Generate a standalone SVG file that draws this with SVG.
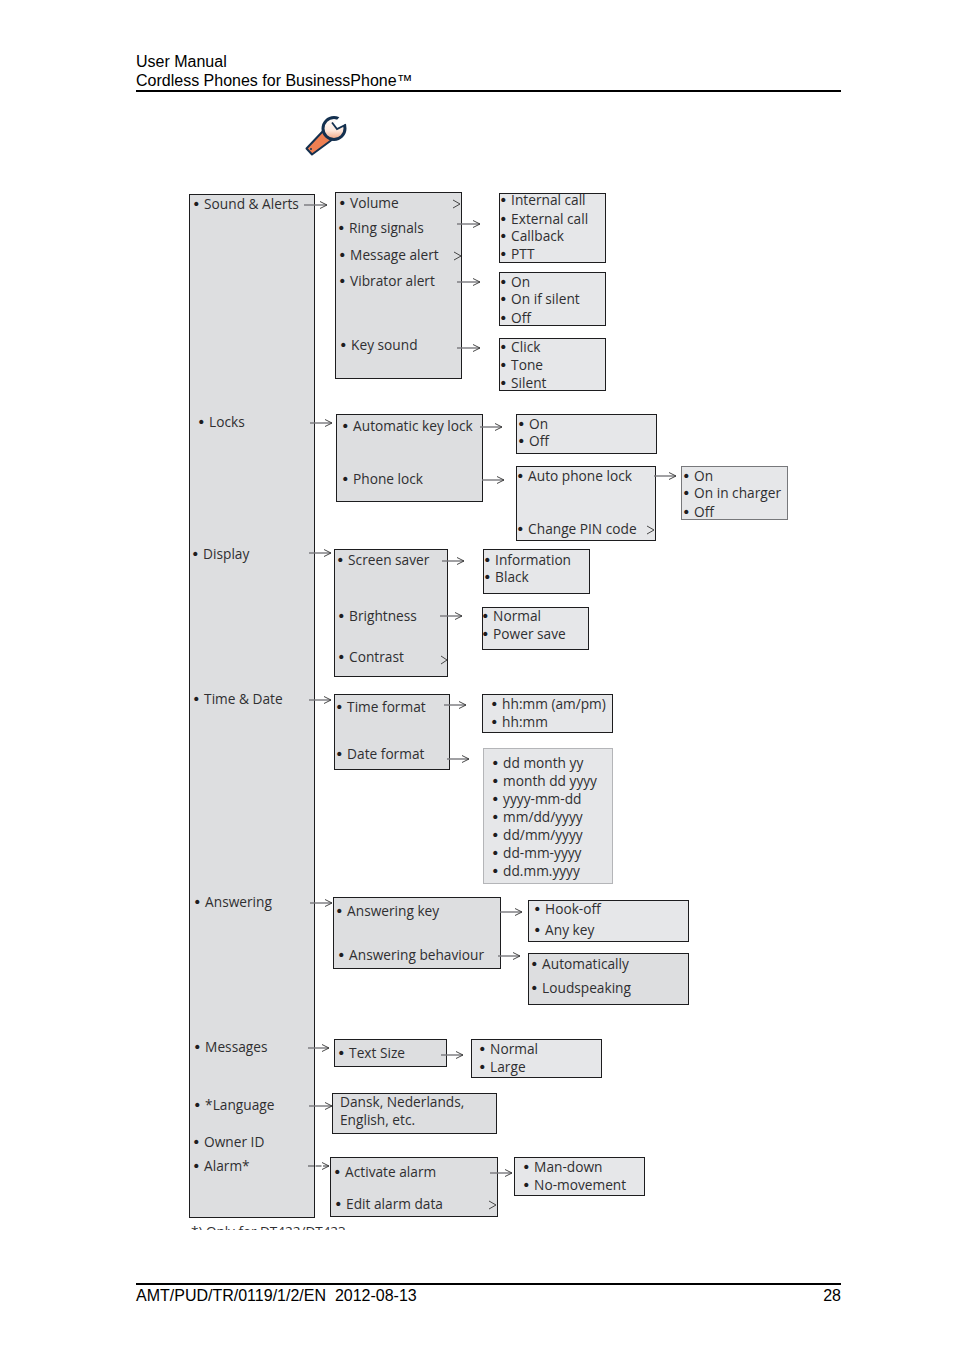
<svg xmlns="http://www.w3.org/2000/svg" width="954" height="1351" viewBox="0 0 954 1351">
<style>
text{font-family:"Open Sans","Noto Sans","Liberation Sans",sans-serif;font-size:13.700px;fill:#2f2f31}
tspan{font-family:"DejaVu Sans",sans-serif;font-size:14.500px;fill:#1d1d1f}
.h{font-family:"Liberation Sans",Arial,sans-serif;font-size:16px;fill:#000;white-space:pre}
.b{fill:#dddee0;stroke:#1d1d1f;stroke-width:1}
.l{fill:#e6e7e9;stroke:#1d1d1f;stroke-width:1}
.g{fill:#e6e7e9;stroke:#b4b5b8;stroke-width:1}
.c{fill:none;stroke:#77787b;stroke-width:1.400;marker-end:url(#a)}
.s{fill:none;stroke:#333;stroke-width:.9}
.r{fill:none;stroke:#000;stroke-width:2}
</style>
<defs>
<marker id="a" markerUnits="userSpaceOnUse" markerWidth="10" markerHeight="10" refX="8" refY="5" orient="auto"><path d="M1 1.500L8 5L1 8.500" fill="none" stroke="#333" stroke-width=".9"/></marker>
<clipPath id="fn"><rect x="185" y="1222" width="200" height="8"/></clipPath>
<linearGradient id="hd" x1="0" y1="0" x2="0" y2="1"><stop offset="0" stop-color="#fff"/><stop offset=".6" stop-color="#fde6da"/><stop offset="1" stop-color="#f0a27e"/></linearGradient>
</defs>
<g id="header"><text class="h" x="136" y="67">User Manual</text><text class="h" x="136" y="86">Cordless Phones for BusinessPhone™</text><path class="r" d="M136 91H841"/></g>
<g id="wrench">
<path d="M306.500 148.500L324 130L333 139L312 154.500Z" fill="#ee7f52" stroke="#14304f" stroke-width="2" stroke-linejoin="round"/>
<circle cx="334" cy="128.500" r="11" fill="url(#hd)" stroke="#14304f" stroke-width="3"/>
<path d="M333 124.500L337 129L349 122L343 113Z" fill="#fff"/>
<path d="M332 122.500L337 129L346 124.500" fill="none" stroke="#14304f" stroke-width="1.800"/>
<circle cx="311" cy="149" r="1" fill="#14304f"/>
</g>
<g id="n-main"><rect class="b" x="189.500" y="194.500" width="125" height="1023"/>
<text x="192" y="209"><tspan>•</tspan> Sound &amp; Alerts</text><text x="197" y="427"><tspan>•</tspan> Locks</text><text x="191" y="559"><tspan>•</tspan> Display</text><text x="192" y="704"><tspan>•</tspan> Time &amp; Date</text><text x="193" y="907"><tspan>•</tspan> Answering</text><text x="193" y="1052"><tspan>•</tspan> Messages</text><text x="193" y="1110"><tspan>•</tspan> *Language</text><text x="192" y="1147"><tspan>•</tspan> Owner ID</text><text x="192" y="1171"><tspan>•</tspan> Alarm*</text></g>
<g id="n-sound"><rect class="b" x="335.500" y="192.500" width="126" height="186"/>
<text x="338" y="208"><tspan>•</tspan> Volume</text><text x="337" y="233"><tspan>•</tspan> Ring signals</text><text x="338" y="260"><tspan>•</tspan> Message alert</text><text x="338" y="286"><tspan>•</tspan> Vibrator alert</text><text x="339" y="350"><tspan>•</tspan> Key sound</text></g>
<g id="n-ring"><rect class="l" x="499.500" y="193.500" width="106" height="69"/><text x="499" y="205"><tspan>•</tspan> Internal call</text><text x="499" y="224"><tspan>•</tspan> External call</text><text x="499" y="241"><tspan>•</tspan> Callback</text><text x="499" y="259"><tspan>•</tspan> PTT</text></g>
<g id="n-vib"><rect class="l" x="499.500" y="272.500" width="106" height="53"/><text x="499" y="287"><tspan>•</tspan> On</text><text x="499" y="304"><tspan>•</tspan> On if silent</text><text x="499" y="323"><tspan>•</tspan> Off</text></g>
<g id="n-key"><rect class="l" x="499.500" y="338.500" width="106" height="52"/><text x="499" y="352"><tspan>•</tspan> Click</text><text x="499" y="370"><tspan>•</tspan> Tone</text><text x="499" y="388"><tspan>•</tspan> Silent</text></g>
<g id="n-locks"><rect class="b" x="336.500" y="414.500" width="146" height="87"/><text x="341" y="431"><tspan>•</tspan> Automatic key lock</text><text x="341" y="484"><tspan>•</tspan> Phone lock</text></g>
<g id="n-auto"><rect class="l" x="516.500" y="414.500" width="140" height="39"/><text x="517" y="429"><tspan>•</tspan> On</text><text x="517" y="446"><tspan>•</tspan> Off</text></g>
<g id="n-phone"><rect class="l" x="516.500" y="466.500" width="139" height="74"/><text x="516" y="481"><tspan>•</tspan> Auto phone lock</text><text x="516" y="534"><tspan>•</tspan> Change PIN code</text></g>
<g id="n-apl"><rect class="g" x="681.500" y="466.500" width="106" height="53" style="stroke:#77787b"/><text x="682" y="481"><tspan>•</tspan> On</text><text x="682" y="498"><tspan>•</tspan> On in charger</text><text x="682" y="517"><tspan>•</tspan> Off</text></g>
<g id="n-display"><rect class="b" x="334.500" y="549.500" width="113" height="127"/><text x="336" y="565"><tspan>•</tspan> Screen saver</text><text x="337" y="621"><tspan>•</tspan> Brightness</text><text x="337" y="662"><tspan>•</tspan> Contrast</text></g>
<g id="n-saver"><rect class="l" x="483.500" y="549.500" width="106" height="44"/><text x="483" y="565"><tspan>•</tspan> Information</text><text x="483" y="582"><tspan>•</tspan> Black</text></g>
<g id="n-bright"><rect class="l" x="482.500" y="607.500" width="106" height="42"/><text x="481" y="621"><tspan>•</tspan> Normal</text><text x="481" y="639"><tspan>•</tspan> Power save</text></g>
<g id="n-time"><rect class="b" x="334.500" y="694.500" width="115" height="75"/><text x="335" y="712"><tspan>•</tspan> Time format</text><text x="335" y="759"><tspan>•</tspan> Date format</text></g>
<g id="n-tf"><rect class="l" x="482.500" y="694.500" width="130" height="38"/><text x="490" y="709"><tspan>•</tspan> hh:mm (am/pm)</text><text x="490" y="727"><tspan>•</tspan> hh:mm</text></g>
<g id="n-df"><rect class="g" x="483.500" y="748.500" width="129" height="135"/><text x="491" y="768"><tspan>•</tspan> dd month yy</text><text x="491" y="786"><tspan>•</tspan> month dd yyyy</text><text x="491" y="804"><tspan>•</tspan> yyyy-mm-dd</text><text x="491" y="822"><tspan>•</tspan> mm/dd/yyyy</text><text x="491" y="840"><tspan>•</tspan> dd/mm/yyyy</text><text x="491" y="858"><tspan>•</tspan> dd-mm-yyyy</text><text x="491" y="876"><tspan>•</tspan> dd.mm.yyyy</text></g>
<g id="n-answer"><rect class="b" x="333.500" y="897.500" width="167" height="71"/><text x="335" y="916"><tspan>•</tspan> Answering key</text><text x="337" y="960"><tspan>•</tspan> Answering behaviour</text></g>
<g id="n-ak"><rect class="l" x="528.500" y="900.500" width="160" height="41"/><text x="533" y="914"><tspan>•</tspan> Hook-off</text><text x="533" y="935"><tspan>•</tspan> Any key</text></g>
<g id="n-ab"><rect class="b" x="528.500" y="953.500" width="160" height="51"/><text x="530" y="969"><tspan>•</tspan> Automatically</text><text x="530" y="993"><tspan>•</tspan> Loudspeaking</text></g>
<g id="n-msg"><rect class="b" x="334.500" y="1039.500" width="112" height="27"/><text x="337" y="1058"><tspan>•</tspan> Text Size</text></g>
<g id="n-size"><rect class="l" x="471.500" y="1039.500" width="130" height="38"/><text x="478" y="1054"><tspan>•</tspan> Normal</text><text x="478" y="1072"><tspan>•</tspan> Large</text></g>
<g id="n-lang"><rect class="b" x="332.500" y="1093.500" width="164" height="40"/><text x="340" y="1107">Dansk, Nederlands,</text><text x="340" y="1125">English, etc.</text></g>
<g id="n-alarm"><rect class="b" x="330.500" y="1157.500" width="167" height="59"/><text x="333" y="1177"><tspan>•</tspan> Activate alarm</text><text x="334" y="1209"><tspan>•</tspan> Edit alarm data</text></g>
<g id="n-act"><rect class="l" x="514.500" y="1157.500" width="130" height="38"/><text x="522" y="1172"><tspan>•</tspan> Man-down</text><text x="522" y="1190"><tspan>•</tspan> No-movement</text></g>
<g id="footnote" clip-path="url(#fn)"><text x="191" y="1236" style="font-size:13.500px">*) Only for DT422/DT423</text></g>
<g id="connectors">
<path class="c" d="M304 205H327"/><path class="c" d="M457 224H480"/><path class="c" d="M457 282H480"/><path class="c" d="M457 348H480"/>
<path class="c" d="M310 423H332"/><path class="c" d="M480 427H502"/><path class="c" d="M482 480H504"/><path class="c" d="M654 476H676"/>
<path class="c" d="M309 553H331"/><path class="c" d="M442 561H464"/><path class="c" d="M440 616H462"/>
<path class="c" d="M309 700H331"/><path class="c" d="M444 705H466"/><path class="c" d="M447 759H469"/>
<path class="c" d="M310 903H332"/><path class="c" d="M500 912H522"/><path class="c" d="M498 956H520"/>
<path class="c" d="M308 1048H329"/><path class="c" d="M441 1055H463"/><path class="c" d="M309 1106H332"/>
<path class="c" d="M308 1166H329" stroke-dasharray="6 1.500"/><path class="c" d="M490 1173H512"/>
<path class="s" d="M453 200L460 204L453 208M454 252L461 256L454 260M647 526L654 530L647 534M441 656L447 660L441 664M489 1201L496 1205L489 1209"/>
</g>
<g id="footer"><path class="r" d="M136 1284H841"/><text class="h" x="136" y="1301">AMT/PUD/TR/0119/1/2/EN  2012-08-13</text><text class="h" x="841" y="1301" text-anchor="end">28</text></g>
</svg>
